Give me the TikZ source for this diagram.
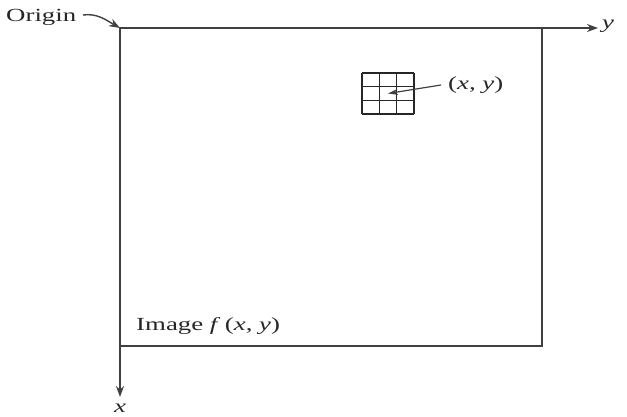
\documentclass[tikz,border=0pt]{standalone}
\usepackage{fontspec}
\setmainfont{Liberation Serif}
\usetikzlibrary{arrows.meta}
\begin{document}
\begin{tikzpicture}[x=1pt,y=-1pt,
  ln/.style={line width=1.4pt,draw=black!75},
  arr/.style={ln,-{Stealth[length=11pt,width=8pt]}},
  gl/.style={line width=1.2pt,draw=black!85},
  lbl/.style={inner sep=0pt,font=\fontsize{18.5}{20}\selectfont,text=black!85}]
\useasboundingbox (0,0) rectangle (627,417);
\coordinate (O) at (120,28);
\coordinate (R) at (542,346);
\coordinate (Yend) at (598,28);
\coordinate (Xend) at (120,397);
\draw[ln] (O) rectangle (R);
\draw[arr] (O) -- (Yend);
\draw[arr] (O) -- (Xend);
\node[lbl,anchor=west] (ylab) at (602,26) {\scalebox{1.45}[1]{\itshape y}};
\node[lbl] (xlab) at (120,408) {\scalebox{1.45}[1]{\itshape x}};
\node[lbl,anchor=west] (orig) at (6,17) {\scalebox{1.45}[1]{Origin}};
\draw[arr] (83,15) .. controls (97,13) and (106,20) .. (O);
\node[lbl,anchor=west] (img) at (136,326) {\scalebox{1.45}[1]{Image \textit{f}\,(\textit{x}, \textit{y})}};
% grid
\node[draw=none,inner sep=0pt,minimum width=52pt,minimum height=41pt] (grid) at (388,93.5) {};
\foreach \gx in {362,379.33,396.67,414} \draw[gl] (\gx,73) -- (\gx,114);
\foreach \gy in {73,86.67,100.33,114} \draw[gl] (362,\gy) -- (414,\gy);
\node[lbl,anchor=west] (xy) at (448,85) {\scalebox{1.45}[1]{(\textit{x}, \textit{y})}};
\draw[ln,line width=1.2pt,-{Stealth[length=10pt,width=6pt]}] (xy.west) ++(-7,0) -- (grid.center);
\end{tikzpicture}
\end{document}
